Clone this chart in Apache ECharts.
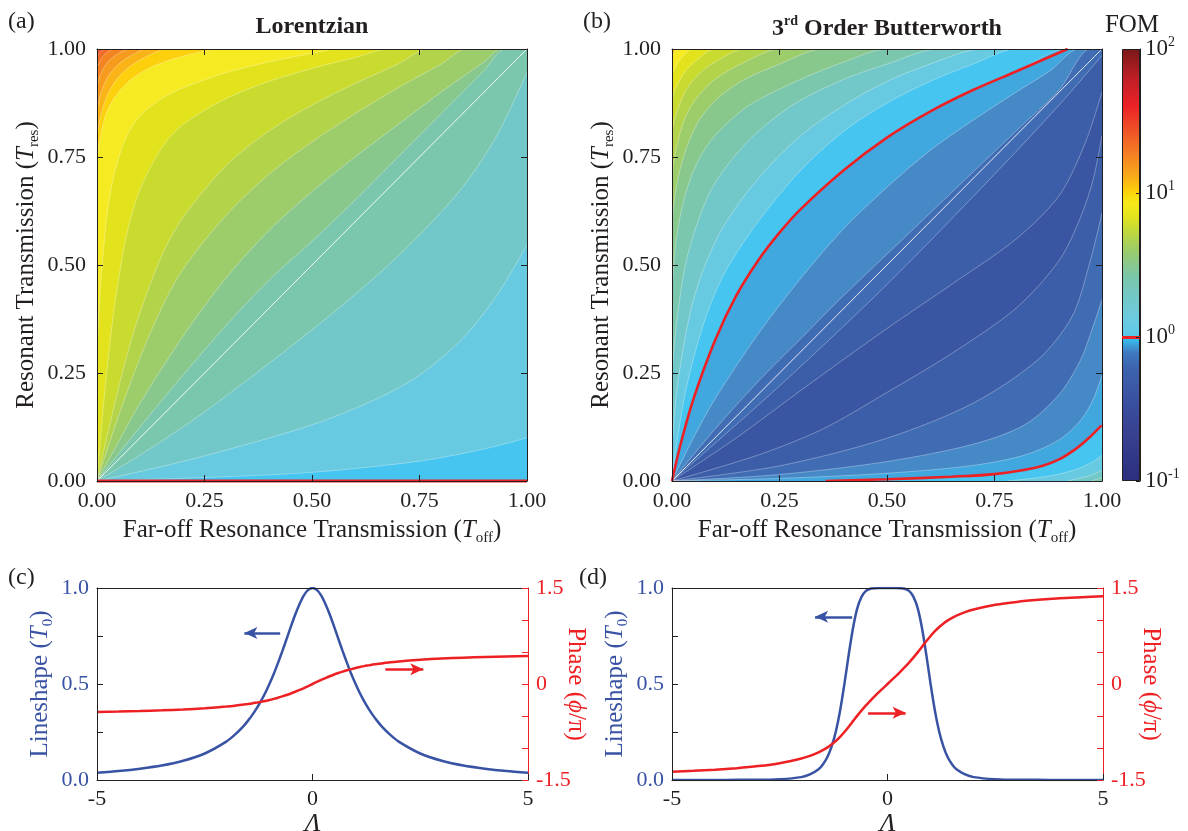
<!DOCTYPE html>
<html>
<head>
<meta charset="utf-8">
<title>FOM maps - Lorentzian vs Butterworth</title>
<script src="https://cdn.jsdelivr.net/npm/echarts@6/dist/echarts.min.js"></script>
<style>
  html, body { margin: 0; padding: 0; background: #fff; }
  #chart { width: 1188px; height: 831px; }
</style>
</head>
<body>
<div id="chart"></div>
<script>
// log10(FOM) contour levels, band colours (lower edge -0.5 ... 1.6, step 0.1)
const bandColors = ['#3a55a2', '#3c5ea9', '#406cb4', '#4689c7', '#41a8df', '#45c5ef', '#68cae1', '#72c8c8',
  '#7ac7ae', '#88c88d', '#9dcd6b', '#b3d34a', '#cadb30', '#e2e31c', '#f6ea23', '#fdd00e', '#fab417',
  '#f69b1e', '#f48421', '#f16b24', '#ee5026', '#eb3527']

// panel (a): Lorentzian, contour lines, [Toff, Tres]
const lorentzLevels = [1.6, 1.5, 1.4, 1.3, 1.2, 1.1, 1.0, 0.9, 0.8, 0.7, 0.6, 0.5, 0.4, 0.3, 0.2, 0.1]
const lorentzContours = [
  [[0, 0.99], [0.003, 0.995], [0.008, 1]],
  [[0, 0.98], [0.005, 0.99], [0.012, 0.996], [0.019, 1]],
  [[0, 0.954], [0.008, 0.975], [0.02, 0.99], [0.042, 1]],
  [[0, 0.915], [0.01, 0.945], [0.025, 0.97], [0.05, 0.99], [0.077, 1]],
  [[0, 0.86], [0.01, 0.9], [0.025, 0.935], [0.05, 0.965], [0.08, 0.985], [0.116, 1]],
  [[0, 0.8], [0.01, 0.85], [0.025, 0.895], [0.05, 0.935], [0.08, 0.962], [0.12, 0.985], [0.162, 1]],
  [[0, 0.745], [0.005, 0.78], [0.015, 0.83], [0.03, 0.87], [0.05, 0.9], [0.08, 0.93], [0.12, 0.955], [0.18, 0.978], [0.25, 0.995], [0.28, 1]],
  [[0, 0.3], [0.005, 0.4], [0.012, 0.5], [0.02, 0.585], [0.03, 0.66], [0.045, 0.73], [0.07, 0.8], [0.1, 0.845], [0.15, 0.885], [0.2, 0.91], [0.3, 0.945], [0.4, 0.97], [0.5, 0.99], [0.56, 1]],
  [[0, 0], [0.01, 0.12], [0.02, 0.225], [0.035, 0.36], [0.05, 0.465], [0.07, 0.575], [0.1, 0.675], [0.15, 0.77], [0.2, 0.825], [0.3, 0.885], [0.4, 0.925], [0.5, 0.955], [0.6, 0.98], [0.68, 1]],
  [[0, 0], [0.025, 0.11], [0.05, 0.215], [0.075, 0.31], [0.1, 0.39], [0.15, 0.52], [0.2, 0.61], [0.3, 0.73], [0.4, 0.81], [0.5, 0.87], [0.6, 0.92], [0.7, 0.965], [0.77, 1]],
  [[0, 0], [0.05, 0.15], [0.1, 0.285], [0.15, 0.4], [0.2, 0.49], [0.3, 0.615], [0.4, 0.71], [0.5, 0.785], [0.6, 0.85], [0.7, 0.91], [0.8, 0.965], [0.86, 1]],
  [[0, 0], [0.05, 0.09], [0.1, 0.18], [0.2, 0.335], [0.3, 0.47], [0.4, 0.58], [0.5, 0.67], [0.6, 0.75], [0.7, 0.825], [0.8, 0.9], [0.9, 0.97], [0.94, 1]],
  [[0, 0], [0.1, 0.125], [0.2, 0.245], [0.3, 0.36], [0.4, 0.465], [0.5, 0.555], [0.6, 0.65], [0.7, 0.75], [0.8, 0.85], [0.9, 0.95], [0.95, 1]],
  [[0, 0], [0.1, 0.06], [0.25, 0.16], [0.5, 0.35], [0.65, 0.475], [0.75, 0.57], [0.85, 0.68], [0.93, 0.8], [1, 0.946]],
  [[0, 0], [0.1, 0.022], [0.25, 0.058], [0.5, 0.13], [0.65, 0.19], [0.75, 0.245], [0.85, 0.33], [0.93, 0.43], [1, 0.547]],
  [[0, 0], [0.25, 0.008], [0.5, 0.02], [0.75, 0.046], [0.9, 0.074], [1, 0.1]]
]
const lorentzUnity = [[0, 0], [1, 0]]

// panel (b): 3rd order Butterworth, upper-left family (FOM falls towards the valley)
const butterUpperLevels = [1.1, 1.0, 0.9, 0.8, 0.7, 0.6, 0.5, 0.4, 0.3, 0.2, 0.1, 0, -0.1, -0.2, -0.3, -0.4]
const butterUpper = [
  [[0, 0.993], [0.003, 0.997], [0.006, 1]],
  [[0, 0.982], [0.006, 0.992], [0.014, 1]],
  [[0, 0.94], [0.01, 0.962], [0.025, 0.982], [0.047, 1]],
  [[0, 0.885], [0.01, 0.912], [0.03, 0.947], [0.06, 0.976], [0.1, 1]],
  [[0, 0.81], [0.01, 0.85], [0.03, 0.9], [0.06, 0.94], [0.1, 0.97], [0.17, 1]],
  [[0, 0.71], [0.01, 0.77], [0.03, 0.84], [0.06, 0.89], [0.1, 0.93], [0.17, 0.97], [0.25, 1]],
  [[0, 0.6], [0.01, 0.68], [0.03, 0.76], [0.06, 0.83], [0.1, 0.88], [0.16, 0.925], [0.25, 0.965], [0.35, 1]],
  [[0, 0.44], [0.01, 0.56], [0.03, 0.66], [0.06, 0.74], [0.1, 0.8], [0.18, 0.87], [0.3, 0.93], [0.4, 0.97], [0.5, 1]],
  [[0, 0.25], [0.01, 0.36], [0.031, 0.5], [0.06, 0.6], [0.1, 0.69], [0.18, 0.79], [0.28, 0.87], [0.4, 0.93], [0.5, 0.965], [0.62, 1]],
  [[0, 0.08], [0.01, 0.2], [0.03, 0.33], [0.05, 0.42], [0.077, 0.5], [0.12, 0.59], [0.2, 0.7], [0.3, 0.8], [0.4, 0.87], [0.5, 0.925], [0.6, 0.965], [0.72, 1]],
  [[0, 0], [0.01, 0.08], [0.03, 0.2], [0.06, 0.32], [0.09, 0.41], [0.127, 0.49], [0.2, 0.6], [0.3, 0.72], [0.4, 0.81], [0.5, 0.875], [0.6, 0.925], [0.7, 0.965], [0.8, 1]],
  [[0, 0], [0.02, 0.085], [0.05, 0.19], [0.1, 0.325], [0.15, 0.43], [0.2, 0.51], [0.25, 0.575], [0.3, 0.63], [0.4, 0.72], [0.5, 0.795], [0.6, 0.855], [0.7, 0.905], [0.8, 0.948], [0.92, 1]],
  [[0, 0], [0.05, 0.1], [0.1, 0.19], [0.2, 0.34], [0.3, 0.47], [0.4, 0.585], [0.5, 0.68], [0.6, 0.765], [0.7, 0.835], [0.8, 0.9], [0.88, 0.95], [0.946, 1]],
  [[0, 0], [0.1, 0.12], [0.2, 0.23], [0.3, 0.33], [0.4, 0.43], [0.5, 0.525], [0.6, 0.62], [0.7, 0.715], [0.8, 0.81], [0.9, 0.905], [0.973, 1]],
  [[0, 0], [0.25, 0.22], [0.5, 0.455], [0.75, 0.71], [0.9, 0.87], [1, 0.985]],
  [[0, 0], [0.15, 0.1], [0.3, 0.21], [0.5, 0.353], [0.65, 0.455], [0.8, 0.56], [0.9, 0.66], [0.96, 0.78], [1, 0.9]]
]
// lower-right family (FOM rises again towards Toff = 1, Tres = 0)
const butterLowerLevels = [-0.4, -0.3, -0.2, -0.1, 0, 0.1, 0.2, 0.3]
const butterLower = [
  [[0, 0], [0.2, 0.06], [0.35, 0.12], [0.5, 0.205], [0.65, 0.295], [0.8, 0.4], [0.9, 0.51], [0.95, 0.61], [0.98, 0.7], [1, 0.8]],
  [[0, 0], [0.25, 0.035], [0.5, 0.099], [0.7, 0.18], [0.85, 0.28], [0.93, 0.38], [0.97, 0.5], [1, 0.62]],
  [[0, 0], [0.25, 0.015], [0.5, 0.045], [0.7, 0.085], [0.82, 0.13], [0.9, 0.2], [0.95, 0.28], [0.98, 0.36], [1, 0.42]],
  [[0, 0], [0.25, 0.006], [0.5, 0.018], [0.7, 0.036], [0.82, 0.06], [0.9, 0.095], [0.95, 0.14], [0.98, 0.19], [1, 0.245]],
  [[0.357, 0], [0.5, 0.004], [0.65, 0.01], [0.75, 0.016], [0.85, 0.032], [0.9, 0.05], [0.94, 0.075], [0.97, 0.1], [1, 0.13]],
  [[0.78, 0], [0.88, 0.012], [0.94, 0.027], [0.98, 0.045], [1, 0.06]],
  [[0.92, 0], [0.97, 0.012], [1, 0.025]],
  [[0.975, 0], [1, 0.008]]
]
const diagonal = [[0, 0], [1, 1]]
const fomExponents = [-1, 0, 1, 2]

// panels (c), (d): lineshape and phase vs detuning
const detuning = [-5, -4.5, -4, -3.5, -3, -2.5, -2, -1.8, -1.6, -1.5, -1.4, -1.3, -1.2, -1.1, -1, -0.9, -0.8, -0.7, -0.6, -0.5, -0.4, -0.3, -0.2, -0.1, 0,
  0.1, 0.2, 0.3, 0.4, 0.5, 0.6, 0.7, 0.8, 0.9, 1, 1.1, 1.2, 1.3, 1.4, 1.5, 1.6, 1.8, 2, 2.5, 3, 3.5, 4, 4.5, 5]
const lorentzT = [0.038, 0.047, 0.059, 0.075, 0.1, 0.138, 0.2, 0.236, 0.281, 0.308, 0.338, 0.372, 0.41, 0.452, 0.5, 0.552, 0.61, 0.671, 0.735, 0.8, 0.862, 0.917, 0.962, 0.99, 1,
  0.99, 0.962, 0.917, 0.862, 0.8, 0.735, 0.671, 0.61, 0.552, 0.5, 0.452, 0.41, 0.372, 0.338, 0.308, 0.281, 0.236, 0.2, 0.138, 0.1, 0.075, 0.059, 0.047, 0.038]
const lorentzPhase = [-0.437, -0.43, -0.422, -0.411, -0.398, -0.379, -0.352, -0.339, -0.322, -0.313, -0.303, -0.291, -0.279, -0.265, -0.25, -0.233, -0.215, -0.194, -0.172, -0.148, -0.121, -0.093, -0.063, -0.032, 0,
  0.032, 0.063, 0.093, 0.121, 0.148, 0.172, 0.194, 0.215, 0.233, 0.25, 0.265, 0.279, 0.291, 0.303, 0.313, 0.322, 0.339, 0.352, 0.379, 0.398, 0.411, 0.422, 0.43, 0.437]
const butterT = [0, 0, 0, 0.001, 0.001, 0.004, 0.015, 0.029, 0.056, 0.081, 0.117, 0.172, 0.251, 0.361, 0.5, 0.653, 0.792, 0.895, 0.955, 0.985, 0.996, 0.999, 1, 1, 1,
  1, 1, 0.999, 0.996, 0.985, 0.955, 0.895, 0.792, 0.653, 0.5, 0.361, 0.251, 0.172, 0.117, 0.081, 0.056, 0.029, 0.015, 0.004, 0.001, 0.001, 0, 0, 0]
const butterPhase = [-1.372, -1.357, -1.339, -1.315, -1.283, -1.237, -1.165, -1.123, -1.068, -1.034, -0.994, -0.947, -0.891, -0.825, -0.75, -0.667, -0.58, -0.494, -0.412, -0.335, -0.263, -0.194, -0.128, -0.064, 0,
  0.064, 0.128, 0.194, 0.263, 0.335, 0.412, 0.494, 0.58, 0.667, 0.75, 0.825, 0.891, 0.947, 0.994, 1.034, 1.068, 1.123, 1.165, 1.237, 1.283, 1.315, 1.339, 1.357, 1.372]
const lorentzArrowT = [[-0.75, 0.766], [-1.58, 0.766]]
const lorentzArrowPhase = [[1.69, 0.23], [2.57, 0.23]]
const butterArrowT = [[-0.82, 0.85], [-1.68, 0.85]]
const butterArrowPhase = [[-0.45, -0.45], [0.42, -0.45]]

const serif = '"Liberation Serif", "Times New Roman", serif'
const ink = '#231f20'
const blue = '#3953a4'
const red = '#ed2024'
const contourLine = 'rgba(255,255,255,0.45)'

function bandColor (lo) {
  return bandColors[Math.round((lo + 0.5) * 10)]
}

function richText (color, size) {
  return {
    n: { fontFamily: serif, fontSize: size, color: color, fill: color, lineHeight: size + 6 },
    i: { fontFamily: serif, fontSize: size, color: color, fill: color, fontStyle: 'italic', lineHeight: size + 6 },
    s: { fontFamily: serif, fontSize: Math.round(size * 0.6), color: color, fill: color, verticalAlign: 'bottom', lineHeight: 13 },
    u: { fontFamily: serif, fontSize: Math.round(size * 0.6), color: color, fill: color, verticalAlign: 'top', lineHeight: 13 }
  }
}

function mapX (gi, name) {
  return {
    gridIndex: gi, type: 'value', min: 0, max: 1, interval: 0.25, position: 'bottom', z: 10,
    axisLine: { onZero: false, lineStyle: { color: ink, width: 1 } },
    axisTick: { inside: true, length: 6, lineStyle: { color: ink } },
    axisLabel: { formatter: v => v.toFixed(2), color: ink, fontFamily: serif, fontSize: 22, margin: 9 },
    splitLine: { show: false },
    name: name, nameLocation: 'middle', nameGap: 34,
    nameTextStyle: { rich: richText(ink, 25) }
  }
}
function mapY (gi, name) {
  return {
    gridIndex: gi, type: 'value', min: 0, max: 1, interval: 0.25, position: 'left', z: 10,
    axisLine: { onZero: false, lineStyle: { color: ink, width: 1 } },
    axisTick: { inside: true, length: 6, lineStyle: { color: ink } },
    axisLabel: { formatter: v => v.toFixed(2), color: ink, fontFamily: serif, fontSize: 22, margin: 11 },
    splitLine: { show: false },
    name: name, nameLocation: 'middle', nameGap: 55, nameRotate: 90,
    nameTextStyle: { rich: richText(ink, 25) }
  }
}
function mirror (gi, pos) {
  return {
    gridIndex: gi, type: 'value', min: 0, max: 1, interval: 0.25, position: pos, z: 10,
    axisLine: { onZero: false, lineStyle: { color: ink, width: 1 } },
    axisTick: { inside: true, length: 6, lineStyle: { color: ink } },
    axisLabel: { show: false }, splitLine: { show: false }
  }
}

const xName = '{n|Far-off Resonance Transmission (}{i|T}{s|off}{n|)}'
const yName = '{n|Resonant Transmission (}{i|T}{s|res}{n|)}'
const phaseName = '{n|Phase (}{i|ϕ}{n|/π)}'

const series = []
function fill (xi, yi, pts, color, line) {
  series.push({
    type: 'line', xAxisIndex: xi, yAxisIndex: yi, data: pts, smooth: 0.3, symbol: 'none', silent: true,
    lineStyle: { color: line, width: 0.7 }, areaStyle: { color: color, opacity: 1 }
  })
}
function stroke (xi, yi, pts, color, width, clip) {
  series.push({
    type: 'line', xAxisIndex: xi, yAxisIndex: yi, data: pts, smooth: 0.3, symbol: 'none', silent: true,
    clip: clip, lineStyle: { color: color, width: width }
  })
}

// (a) painter's order: background, then each level's lower side
fill(0, 0, [[0, 1], [1, 1]], bandColor(1.6), 'transparent')
lorentzLevels.forEach((lv, k) => {
  const pts = lorentzContours[k].slice()
  if (pts[pts.length - 1][0] < 1) pts.push([1, 1])
  fill(0, 0, pts, bandColor(lv - 0.1), contourLine)
})
stroke(0, 0, diagonal, 'rgba(255,255,255,0.9)', 1, true)
stroke(0, 0, lorentzUnity, red, 3, false)

// (b)
fill(2, 2, [[0, 1], [1, 1]], bandColor(1.1), 'transparent')
butterUpperLevels.forEach((lv, k) => {
  const pts = butterUpper[k].slice()
  if (pts[pts.length - 1][0] < 1) pts.push([1, 1])
  fill(2, 2, pts, bandColor(lv - 0.1), contourLine)
})
butterLowerLevels.forEach((lv, k) => {
  fill(2, 2, butterLower[k], bandColor(lv), contourLine)
})
stroke(2, 2, diagonal, 'rgba(255,255,255,0.85)', 1, true)
stroke(2, 2, butterUpper[butterUpperLevels.indexOf(0)], red, 2.6, true)
stroke(2, 2, butterLower[butterLowerLevels.indexOf(0)], red, 2.6, true)

// colour bar
const barStops = [
  [0, '#2c2e7e'], [0.104, '#37408f'], [0.18, '#3a4f9f'], [0.258, '#3d62ae'], [0.297, '#3f79c0'],
  [0.328, '#38bdee'], [0.339, '#5cc8e6'], [0.374, '#6ccbe0'], [0.428, '#73c8c6'], [0.474, '#7ac6aa'],
  [0.528, '#98cb70'], [0.574, '#bcd640'], [0.613, '#e4e41c'], [0.644, '#f6ea18'], [0.671, '#fdd00a'],
  [0.705, '#f9ab1a'], [0.76, '#f47d24'], [0.821, '#ee4a27'], [0.867, '#ec2227'], [0.93, '#c01f26'], [1, '#7b1719']
].map(s => ({ offset: s[0], color: s[1] }))
series.push({
  type: 'bar', xAxisIndex: 4, yAxisIndex: 4, data: [3], barWidth: '100%', silent: true,
  itemStyle: { color: new echarts.graphic.LinearGradient(0, 1, 0, 0, barStops), borderColor: ink, borderWidth: 1 },
  markLine: {
    silent: true, symbol: 'none', label: { show: false },
    lineStyle: { color: red, width: 3, type: 'solid' }, data: [{ yAxis: 1 }]
  }
})

function arrow (pts, color) {
  return {
    silent: true, symbol: ['none', 'arrow'], symbolSize: [9, 13], label: { show: false },
    lineStyle: { color: color, width: 2.5, type: 'solid' },
    data: [[{ coord: pts[0] }, { coord: pts[1] }]]
  }
}
function curve (xi, yi, ys, color, arrowPts) {
  series.push({
    type: 'line', xAxisIndex: xi, yAxisIndex: yi, data: detuning.map((d, i) => [d, ys[i]]),
    smooth: 0.25, symbol: 'none', silent: true, lineStyle: { color: color, width: 2.5 },
    markLine: arrow(arrowPts, color)
  })
}
curve(6, 5, lorentzT, blue, lorentzArrowT)
curve(6, 6, lorentzPhase, red, lorentzArrowPhase)
curve(8, 7, butterT, blue, butterArrowT)
curve(8, 8, butterPhase, red, butterArrowPhase)

function lineX (gi) {
  return {
    gridIndex: gi, type: 'value', min: -5, max: 5, interval: 5, position: 'bottom', z: 10,
    axisLine: { onZero: false, lineStyle: { color: ink } },
    axisTick: { inside: true, length: 6, lineStyle: { color: ink } },
    axisLabel: { color: ink, fontFamily: serif, fontSize: 22, margin: 8 },
    splitLine: { show: false },
    name: 'Λ', nameLocation: 'middle', nameGap: 30,
    nameTextStyle: { color: ink, fontFamily: serif, fontSize: 26, fontStyle: 'italic' }
  }
}
function lineTop (gi) {
  return {
    gridIndex: gi, type: 'value', min: -5, max: 5, position: 'top', z: 10,
    axisLine: { onZero: false, lineStyle: { color: ink } },
    axisTick: { show: false }, axisLabel: { show: false }, splitLine: { show: false }
  }
}
function shapeY (gi) {
  return {
    gridIndex: gi, type: 'value', min: 0, max: 1, interval: 0.25, position: 'left', z: 10,
    axisLine: { onZero: false, lineStyle: { color: ink } },
    axisTick: { inside: true, length: 6, lineStyle: { color: ink } },
    axisLabel: { formatter: v => (v === 0.25 || v === 0.75) ? '' : v.toFixed(1), color: blue, fontFamily: serif, fontSize: 22, margin: 8 },
    splitLine: { show: false },
    name: '{n|Lineshape (}{i|T}{s|0}{n|)}', nameLocation: 'middle', nameGap: 41, nameRotate: 90,
    nameTextStyle: { rich: richText(blue, 25) }
  }
}
function phaseY (gi) {
  return {
    gridIndex: gi, type: 'value', min: -1.5, max: 1.5, interval: 0.5, position: 'right', z: 10,
    axisLine: { onZero: false, lineStyle: { color: red } },
    axisTick: { inside: true, length: 6, lineStyle: { color: red } },
    axisLabel: { formatter: v => (v === -1.5 || v === 0 || v === 1.5) ? String(v) : '', color: red, fontFamily: serif, fontSize: 22, margin: 8 },
    splitLine: { show: false }
  }
}
function sideName (x, y) {
  return {
    type: 'text', x: x, y: y, rotation: -Math.PI / 2,
    style: { text: phaseName, rich: richText(red, 25), align: 'center', verticalAlign: 'middle' }
  }
}

const grid = (left, top, width, height) => ({ left, top, width, height, containLabel: false, outerBoundsMode: 'none' })

const option = {
  animation: false,
  backgroundColor: '#ffffff',
  grid: [grid(97, 49, 430, 432), grid(672, 49, 430, 432), grid(1122, 49, 18, 432), grid(97, 588, 431, 192), grid(672, 588, 431, 192)],
  xAxis: [
    mapX(0, xName), mirror(0, 'top'),
    mapX(1, xName), mirror(1, 'top'),
    { gridIndex: 2, type: 'category', data: ['FOM'], show: false },
    lineX(3), lineTop(3), lineX(4), lineTop(4)
  ],
  yAxis: [
    mapY(0, yName), mirror(0, 'right'),
    mapY(1, yName), mirror(1, 'right'),
    {
      gridIndex: 2, type: 'value', min: 0, max: 3, interval: 1, position: 'right', z: 10,
      axisLine: { show: true, onZero: false, lineStyle: { color: ink } },
      axisTick: { show: true, inside: true, length: 4, lineStyle: { color: ink } },
      axisLabel: {
        margin: 5, formatter: v => '{b|10}{s|' + fomExponents[v] + '}',
        rich: {
          b: { fontFamily: serif, fontSize: 23, color: ink, lineHeight: 28 },
          s: { fontFamily: serif, fontSize: 14, color: ink, verticalAlign: 'top', lineHeight: 14 }
        }
      },
      splitLine: { show: false }
    },
    shapeY(3), phaseY(3), shapeY(4), phaseY(4)
  ],
  graphic: [
    { type: 'text', x: 8, y: 22, style: { text: '(a)', fontFamily: serif, fontSize: 24, fill: ink, verticalAlign: 'middle' } },
    { type: 'text', x: 583, y: 22, style: { text: '(b)', fontFamily: serif, fontSize: 24, fill: ink, verticalAlign: 'middle' } },
    { type: 'text', x: 8, y: 578, style: { text: '(c)', fontFamily: serif, fontSize: 24, fill: ink, verticalAlign: 'middle' } },
    { type: 'text', x: 579, y: 578, style: { text: '(d)', fontFamily: serif, fontSize: 24, fill: ink, verticalAlign: 'middle' } },
    { type: 'text', x: 312, y: 27, style: { text: 'Lorentzian', fontFamily: serif, fontSize: 24, fontWeight: 'bold', fill: ink, align: 'center', verticalAlign: 'middle' } },
    {
      type: 'text', x: 887, y: 29,
      style: {
        text: '{b|3}{u|rd}{b| Order Butterworth}', align: 'center', verticalAlign: 'middle',
        rich: {
          b: { fontFamily: serif, fontSize: 24, fontWeight: 'bold', fill: ink, color: ink, lineHeight: 30 },
          u: { fontFamily: serif, fontSize: 14, fontWeight: 'bold', fill: ink, color: ink, verticalAlign: 'top', lineHeight: 14 }
        }
      }
    },
    { type: 'text', x: 1132, y: 25, style: { text: 'FOM', fontFamily: serif, fontSize: 25, fill: ink, align: 'center', verticalAlign: 'middle' } },
    sideName(576, 684),
    sideName(1151, 684)
  ],
  series: series
}

const chart = echarts.init(document.getElementById('chart'), null, { width: 1188, height: 831, renderer: 'canvas' })
chart.setOption(option)
</script>
</body>
</html>
